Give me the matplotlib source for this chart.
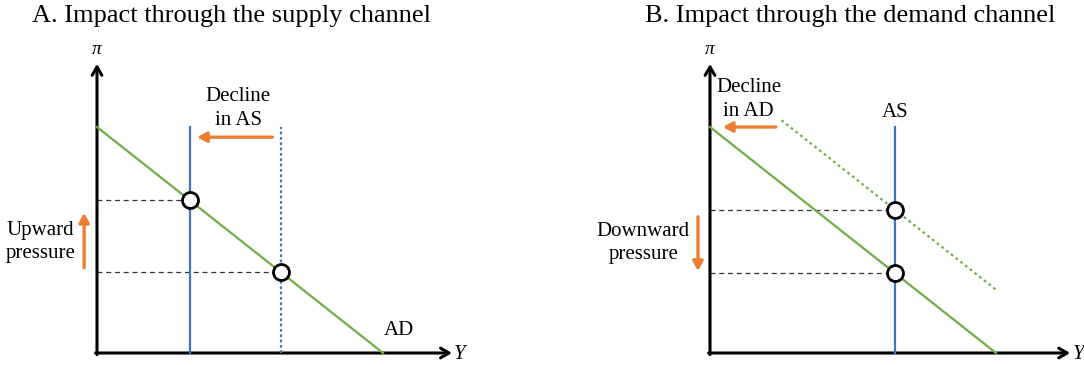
import matplotlib
matplotlib.use("Agg")
import matplotlib.pyplot as plt
import numpy as np

# ---- data (schematic units) ----
ad_intercept = 10.0          # AD: pi = intercept - Y
ad_shifted_intercept = 12.8  # original AD before decline (panel B)
as_new_A = 3.25              # AS after decline (panel A)
as_old_A = 6.43              # AS before decline (panel A)
as_B = 6.47                  # AS (panel B)
ad_shift_range_B = [2.5, 10.05]  # extent of dotted AD in panel B
x_axis_len_A = 12.41
x_axis_len_B = 12.59
y_axis_len = 12.79

titles = ["A. Impact through the supply channel", "B. Impact through the demand channel"]

BLUE = "#4472C4"
GREEN = "#70AD47"
ORANGE = "#ED7D31"
FONT = "Liberation Serif"

W, H = 1084, 365
fig = plt.figure(figsize=(W / 100, H / 100), dpi=100)
SX, SY = 28.6, 22.6  # px per unit


def make_ax(px0, px1, ox, oy):
    ax = fig.add_axes([px0 / W, 0, (px1 - px0) / W, 1])
    ax.set_xlim((px0 - ox) / SX, (px1 - ox) / SX)
    ax.set_ylim((oy - H) / SY, oy / SY)
    ax.axis("off")
    return ax


def axes_arrows(ax, xlen, ylen):
    kw = dict(arrowstyle="->,head_length=0.6,head_width=0.35", color="black", lw=2.2,
              shrinkA=0, shrinkB=0)
    ax.annotate("", xy=(0, ylen), xytext=(0, -0.07), arrowprops=kw)
    ax.annotate("", xy=(xlen, 0), xytext=(-0.05, 0), arrowprops=kw)
    ax.text(0, ylen + 0.62, "π", family=FONT, style="italic", fontsize=14,
            ha="center", va="center")
    ax.text(xlen + 0.08, -0.05, "Y", family=FONT, style="italic", fontsize=15,
            ha="left", va="center")


def orange_arrow(ax, start, end):
    ax.annotate("", xy=end, xytext=start,
                arrowprops=dict(arrowstyle="-|>,head_length=0.55,head_width=0.3",
                                color=ORANGE, lw=2.4, shrinkA=0, shrinkB=0))


def circle(ax, x, y):
    ax.plot([x], [y], "o", ms=11.5, mfc="white", mec="black", mew=2.0, zorder=5)


def dashed(ax, x, y):
    ax.plot([0, x], [y, y], color="#333333", lw=0.9, dashes=(4, 3), zorder=2)


txt = dict(family=FONT, fontsize=15)

# ---- Panel A ----
axA = make_ax(0, 480, 97, 353)
axA.text((232 - 97) / SX, (353 - 16) / SY, titles[0], family=FONT, fontsize=19,
         ha="center", va="center")
axes_arrows(axA, x_axis_len_A, y_axis_len)
axA.plot([0, ad_intercept], [ad_intercept, 0], color=GREEN, lw=1.6, zorder=3)
axA.plot([as_new_A, as_new_A], [0, ad_intercept], color=BLUE, lw=1.6, zorder=3)
axA.plot([as_old_A, as_old_A], [0, ad_intercept], color=BLUE, lw=1.6,
         dashes=(1.2, 1.2), zorder=3)
piA1 = ad_intercept - as_new_A
piA0 = ad_intercept - as_old_A
dashed(axA, as_new_A, piA1)
dashed(axA, as_old_A, piA0)
circle(axA, as_new_A, piA1)
circle(axA, as_old_A, piA0)
orange_arrow(axA, (as_old_A - 0.3, ad_intercept - 0.45), (as_new_A + 0.25, ad_intercept - 0.45))
axA.text((as_new_A + as_old_A) / 2 + 0.1, ad_intercept + 0.82, "Decline\nin AS", ha="center",
         va="center", linespacing=1.3, **txt)
axA.text(ad_intercept + 0.55, 1.0, "AD", ha="center", va="center", **txt)
orange_arrow(axA, (-0.45, piA0 + 0.2), (-0.45, piA1 - 0.55))
axA.text(-0.75, (piA0 + piA1) / 2 - 0.24, "Upward\npressure", ha="right", va="center",
         multialignment="center", linespacing=1.3, **txt)

# ---- Panel B ----
axB = make_ax(580, 1084, 710, 353)
axB.text((850 - 710) / SX, (353 - 16) / SY, titles[1], family=FONT, fontsize=19,
         ha="center", va="center")
axes_arrows(axB, x_axis_len_B, y_axis_len)
axB.plot([0, ad_intercept], [ad_intercept, 0], color=GREEN, lw=1.6, zorder=3)
xs = np.array(ad_shift_range_B)
axB.plot(xs, ad_shifted_intercept - xs, color=GREEN, lw=1.6, dashes=(1.2, 1.5), zorder=3)
axB.plot([as_B, as_B], [0, ad_intercept], color=BLUE, lw=1.6, zorder=3)
piB0 = ad_shifted_intercept - as_B
piB1 = ad_intercept - as_B
dashed(axB, as_B, piB0)
dashed(axB, as_B, piB1)
circle(axB, as_B, piB0)
circle(axB, as_B, piB1)
axB.text(as_B, ad_intercept + 0.65, "AS", ha="center", va="center", **txt)
orange_arrow(axB, (2.3, ad_intercept), (0.45, ad_intercept))
axB.text(1.35, ad_intercept + 1.22, "Decline\nin AD", ha="center", va="center",
         linespacing=1.3, **txt)
orange_arrow(axB, (-0.42, piB0 - 0.3), (-0.42, piB1 + 0.1))
axB.text(-0.7, (piB0 + piB1) / 2 - 0.08, "Downward\npressure", ha="right", va="center",
         multialignment="center", linespacing=1.3, **txt)

fig.savefig("out.png", dpi=100)
